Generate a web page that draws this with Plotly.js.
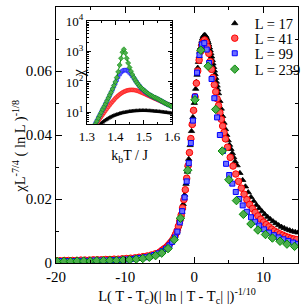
<!DOCTYPE html>
<html><head><meta charset="utf-8">
<script src="https://cdn.plot.ly/plotly-3.0.1.min.js"></script>
<style>html,body{margin:0;padding:0;background:#fff;}#chart{width:307px;height:308px;}</style>
</head><body><div id="chart"></div>
<script>
// ---- main plot data ----
const seriesNames = ['L = 17', 'L = 41', 'L = 99', 'L = 239'];

const x17 = [-20,-19.5,-19,-18.5,-18,-17.5,-17,-16.5,-16,-15.5,-15,-14.5,-14,-13.5,-13,-12.5,-12,-11.5,-11,-10.5,-10,-9.5,-9,-8.5,-8,-7.5,-7,-6.5,-6,-5.5,-5,
-4.8,-4.6,-4.4,-4.2,-4.0,-3.8,-3.6,-3.4,-3.2,
-3.0,-2.9,-2.8,-2.7,-2.6,-2.5,-2.4,-2.3,-2.2,-2.1,-2.0,-1.9,-1.8,-1.7,-1.6,-1.5,-1.4,-1.3,-1.2,-1.1,-1.0,-0.9,-0.8,-0.7,-0.6,-0.5,-0.4,-0.3,-0.2,-0.1,0,0.1,0.2,0.3,0.4,0.5,0.6,0.7,0.8,0.9,1.0,1.1,1.2,1.3,1.4,1.5,1.6,1.7,1.8,1.9,2.0,2.1,2.2,2.3,2.4,2.5,2.6,2.7,2.8,2.9,3.0,3.1,3.2,3.3,3.4,3.5,
3.7,3.9,4.1,4.3,4.5,4.7,4.9,5.1,5.3,5.5,5.7,5.9,
6.2,6.6,7.0,7.4,7.8,8.2,8.6,9.0,9.4,9.8,10.2,10.6,11.0,11.4,11.8,12.2,12.6,13.0,13.4,13.8,14.2,14.6,15.0];
const y17 = [.0008,.0008,.0008,.0008,.0009,.0009,.0009,.0009,.0010,.0010,.0010,.0010,.0011,.0011,.0011,.0012,.0012,.0013,.0013,.0014,.0014,.0015,.0016,.0017,.0018,.0019,.0021,.0023,.0026,.0030,.0034,
.0036,.0039,.0041,.0045,.0049,.0053,.0058,.0063,.0069,
.0076,.0080,.0084,.0089,.0094,.0100,.0107,.0114,.0121,.0129,.0138,.0148,.0159,.0171,.0184,.0198,.0213,.0229,.0247,.0266,.0285,.0305,.0325,.0346,.0368,.0390,.0412,.0434,.0456,.0478,.0500,.0522,.0544,.0566,.0588,.0610,.0628,.0645,.0660,.0673,.0685,.0694,.0702,.0708,.0711,.0712,.0711,.0707,.0702,.0696,.0690,.0682,.0673,.0664,.0655,.0645,.0634,.0623,.0612,.0601,.0590,.0578,.0566,.0554,.0542,.0530,
.0506,.0482,.0459,.0438,.0418,.0400,.0383,.0369,.0356,.0343,.0330,.0317,
.0305,.0281,.0259,.0239,.0221,.0206,.0193,.0181,.0171,.0161,.0152,.0144,.0137,.0130,.0124,.0118,.0113,.0109,.0105,.0102,.0099,.0097,.0095];

const x41 = [-20,-19.4,-18.8,-18.2,-17.6,-17,-16.4,-15.8,-15.2,-14.6,-14,-13.4,-12.8,-12.2,-11.6,-11,-10.4,-9.8,-9.2,-8.6,-8,-7.4,-6.8,-6.2,-5.6,-5.0,
-4.7,-4.5,-4.3,-4.1,-3.9,-3.7,-3.5,-3.3,-3.1,-2.9,-2.7,-2.5,-2.3,-2.1,-1.9,-1.7,-1.5,-1.3,-1.1,-0.9,-0.7,-0.5,-0.3,-0.1,0.1,0.3,0.5,0.7,0.9,1.1,1.3,1.5,1.7,1.9,2.1,2.3,2.5,2.7,2.9,3.1,3.3,3.5,3.7,3.9,4.1,4.3,4.5,
4.8,5.2,5.6,6.0,6.4,6.8,7.2,7.6,8.0,8.4,8.8,9.2,9.6,10.0,10.4,10.8,11.2,11.6,12.0,12.4,12.8,13.2,13.6,14.0,14.4,14.8];
const y41 = [.0007,.0007,.0008,.0008,.0008,.0008,.0009,.0009,.0009,.0010,.0010,.0010,.0011,.0011,.0012,.0012,.0013,.0014,.0015,.0016,.0018,.0020,.0022,.0025,.0029,.0034,
.0039,.0042,.0045,.0048,.0052,.0057,.0062,.0067,.0073,.0081,.0090,.0101,.0115,.0131,.0150,.0172,.0198,.0229,.0265,.0304,.0345,.0389,.0433,.0477,.0520,.0562,.0600,.0634,.0661,.0680,.0692,.0697,.0690,.0676,.0655,.0630,.0605,.0580,.0557,.0535,.0513,.0492,.0470,.0449,.0428,.0408,.0388,
.0362,.0330,.0303,.0278,.0255,.0234,.0215,.0198,.0183,.0170,.0158,.0147,.0137,.0128,.0120,.0113,.0106,.0100,.0095,.0091,.0087,.0083,.0080,.0077,.0075,.0073];

const x99 = [-20,-19.2,-18.4,-17.6,-16.8,-16,-15.2,-14.4,-13.6,-12.8,-12,-11.3,-10.6,-9.9,-9.2,-8.5,-7.8,-7.1,-6.4,-5.8,-5.2,-4.6,-4.1,-3.6,-3.2,-2.8,-2.45,-2.1,-1.75,-1.4,-1.1,-0.8,-0.5,-0.2,0.1,0.4,0.75,1.1,1.45,1.8,2.15,2.5,2.9,3.3,3.7,4.15,4.6,5.05,5.5,6.0,6.5,7.0,7.6,8.2,8.8,9.4,10.1,10.8,11.5,12.2,12.9,13.6,14.3,15.0];
const y99 = [.0006,.0006,.0006,.0006,.0007,.0007,.0007,.0008,.0008,.0008,.0009,.0009,.0010,.0011,.0012,.0014,.0016,.0018,.0021,.0025,.0030,.0037,.0045,.0055,.0066,.0080,.0098,.0127,.0162,.0205,.0255,.0312,.0375,.0445,.0520,.0595,.0650,.0683,.0687,.0667,.0625,.0575,.0515,.0455,.0400,.0350,.0310,.0275,.0248,.0222,.0200,.0180,.0160,.0143,.0129,.0117,.0105,.0095,.0087,.0080,.0074,.0069,.0064,.0060];

const x239 = [-19.8,-18.85,-17.9,-16.95,-16.0,-15.05,-14.1,-13.15,-12.2,-11.25,-10.3,-9.35,-8.4,-7.45,-6.5,-5.6,-4.7,-3.8,-2.9,-2.0,-0.95,0.1,0.95,2.0,3.1,4.05,5.0,6.1,7.1,8.2,9.2,10.3,11.3,12.4,13.4,14.5];
const y239 = [.0005,.0005,.0005,.0006,.0006,.0006,.0007,.0007,.0008,.0008,.0009,.0010,.0012,.0014,.0018,.0023,.0031,.0045,.0073,.0140,.0290,.0510,.0665,.0615,.0480,.0350,.0260,.0195,.0152,.0122,.0103,.0089,.0078,.0068,.0059,.0052];

// ---- inset data ----
const tInset = [1.330,1.335,1.340,1.345,1.350,1.355,1.360,1.365,1.370,1.375,1.380,1.385,1.390,1.395,1.400,
1.405,1.410,1.415,1.420,1.425,1.430,1.435,1.440,1.445,1.450,1.455,1.460,1.465,1.470,1.475,1.480,1.485,1.490,1.495,1.500,
1.505,1.510,1.515,1.520,1.525,1.530,1.535,1.540,1.545,1.550,1.555,1.560,1.565,1.570,1.575,1.580,1.585,1.590,1.595,1.600];
const chi17 = [4.4,4.8,5.2,5.6,6.0,6.4,6.8,7.2,7.6,7.95,8.3,
8.6,8.9,9.2,9.5,9.75,10.0,10.2,10.4,10.6,10.8,10.95,11.1,11.2,11.3,11.4,11.45,11.5,11.55,11.55,11.55,
11.55,11.5,11.45,11.4,11.3,11.2,11.1,11.0,10.9,10.8,10.65,10.5,10.4,10.25,10.1,9.95,9.8,9.65,9.5,9.35]; // from 1.350
const chi41 = [4.5,5.3,6.2,7.2,8.4,9.8,11.4,13.2,15.2,17.5,20,22.8,25.8,29,
32.3,35.6,38.9,42,45,47.6,50,52,53.5,54.5,55,55,54.5,53.5,52,50.3,48.3,46.2,44,42,
40,38,36.2,34.5,32.8,31.2,29.7,28.3,27,25.7,24.5,23.3,22.2,21.2,20.2,19.2,18.3,17.5,16.7,16.0]; // from 1.335
const chi99 = [4.3,5.3,6.6,8.1,10,12.4,15,18.5,23,28.5,36,45,57,73,93,
118,148,180,208,230,243,248,242,225,203,180,157,135,115,98,84,73,64,57.5,52.5,
48,44,40.8,38,35.5,33.5,31.5,30,28.5,27,25.6,24.2,22.8,21.4,20.2,19.1,18.1,17.2,16.3,15.4];
const chi239 = [4.2,5.2,6.5,8.0,10,12.5,15.2,18.8,23.5,29.5,37,46,59,76,100,
140,215,360,600,950,1180,900,600,420,300,225,175,140,115,97,84,73,65,59,54,
49,45,41.5,38.5,36,34,32,30.5,29,27.5,26,24.5,23,21.5,20.3,19.2,18.2,17.3,16.4,15.5];

const mainTicksX = [-20,-10,0,10];
const mainTickTextX = ['-20','-10','0','10'];
const mainTicksY = [0,0.02,0.04,0.06,0.08];
const mainTickTextY = ['0','0.02','0.04','0.06','0.08'];
const insetTicksX = [1.3,1.4,1.5,1.6];
const insetTicksY = [10,100,1000,10000];
const insetTickTextY = ['10<sup>1</sup>','10<sup>2</sup>','10<sup>3</sup>','10<sup>4</sup>'];

const FONT = 'Liberation Serif, Times New Roman, serif';
const styles = [
  {symbol:'triangle-up', size:5.5, color:'#000000', line:{color:'#000000', width:0.8}},
  {symbol:'circle', size:6.5, color:'#ff5a5a', line:{color:'#ff0000', width:1}},
  {symbol:'square', size:5, color:'#6f6fff', line:{color:'#0000ff', width:1}},
  {symbol:'diamond', size:6.5, color:'#4cae4c', line:{color:'#008a00', width:1}}
];
const insetStyles = [
  {symbol:'triangle-up', size:4, color:'#000000', line:{color:'#000000', width:0.5}},
  {symbol:'circle', size:4, color:'#ff5a5a', line:{color:'#ff0000', width:0.5}},
  {symbol:'square', size:3.5, color:'#6f6fff', line:{color:'#0000ff', width:0.5}},
  {symbol:'diamond', size:4, color:'#4cae4c', line:{color:'#008a00', width:0.5}}
];

const mx = [x17,x41,x99,x239], my = [y17,y41,y99,y239];
const it = [tInset.slice(4), tInset.slice(1), tInset, tInset];
const ic = [chi17, chi41, chi99, chi239];
const legendIds = ['legend','legend2','legend3','legend4'];

const traces = [];
for (let i=0;i<4;i++){
  traces.push({x:mx[i], y:my[i], type:'scatter', mode:'markers', name:seriesNames[i],
    marker:styles[i], xaxis:'x', yaxis:'y', legend:legendIds[i]});
}
for (let i=0;i<4;i++){
  traces.push({x:it[i], y:ic[i], type:'scatter', mode: i===3 ? 'lines+markers' : 'markers',
    line:{color:'#008a00', width:1}, marker:insetStyles[i], showlegend:false, xaxis:'x2', yaxis:'y2'});
}

const axBase = {showline:true, linecolor:'#000', linewidth:1, mirror:'ticks', ticks:'inside', tickcolor:'#000',
  tickwidth:1, showgrid:false, zeroline:false};

const minorLog = [];
[1,10,100,1000].forEach(d=>{for(let k=2;k<=9;k++) minorLog.push(k*d);});

const legRowY = [0.936, 0.878, 0.819, 0.757];
const legFont = {family:FONT, size:14.5, color:'#000'};

const layout = {
  width:307, height:308,
  margin:{l:56, r:1, t:7, b:45},
  paper_bgcolor:'#fff', plot_bgcolor:'#fff',
  showlegend:true,
  xaxis:Object.assign({}, axBase, {range:[-20,15], ticklen:6, tickmode:'array', tickvals:mainTicksX, ticktext:mainTickTextX,
    tickfont:{family:FONT, size:15, color:'#000'},
    minor:{ticks:'inside', dtick:5, tick0:0, ticklen:3, tickcolor:'#000'},
    title:{text:'L( T - T<sub>c</sub>)(| ln | T - T<sub>c</sub>| |)<sup>-1/10</sup>', font:{family:FONT, size:14.5, color:'#000'}, standoff:6}}),
  yaxis:Object.assign({}, axBase, {range:[0,0.08], ticklen:6, tickmode:'array', tickvals:mainTicksY, ticktext:mainTickTextY,
    tickfont:{family:FONT, size:15, color:'#000'},
    minor:{ticks:'inside', dtick:0.01, tick0:0, ticklen:3, tickcolor:'#000'}}),
  xaxis2:Object.assign({}, axBase, {domain:[0.128,0.48], anchor:'y2', range:[1.3,1.6], ticklen:4,
    tickmode:'array', tickvals:insetTicksX, ticktext:['1.3','1.4','1.5','1.6'],
    tickfont:{family:FONT, size:13, color:'#000'},
    minor:{ticks:'inside', dtick:0.05, tick0:1.3, ticklen:2, tickcolor:'#000'},
    title:{text:'k<sub>b</sub>T / J', font:{family:FONT, size:14, color:'#000'}, standoff:7}}),
  yaxis2:Object.assign({}, axBase, {domain:[0.543,0.945], anchor:'x2', type:'log', range:[0.62,4], ticklen:4,
    tickmode:'array', tickvals:insetTicksY, ticktext:insetTickTextY,
    tickfont:{family:FONT, size:13, color:'#000'},
    minor:{ticks:'inside', tickmode:'array', tickvals:minorLog, ticklen:2, tickcolor:'#000'}}),
  annotations:[
    {text:'χL<sup>-7/4</sup> ( ln L )<sup>-1/8</sup>', xref:'paper', yref:'paper', x:-0.152, y:0.455,
     xanchor:'center', yanchor:'middle', textangle:-90, showarrow:false, font:{family:FONT, size:14.5, color:'#000'}},
    {text:'χ', xref:'paper', yref:'paper', x:0.096, y:0.742, xanchor:'center', yanchor:'middle',
     textangle:-90, showarrow:false, font:{family:FONT, size:16, color:'#000'}}
  ]
};
legendIds.forEach((id, i) => {
  layout[id] = {x:0.656, y:legRowY[i], xanchor:'left', yanchor:'middle', bgcolor:'rgba(0,0,0,0)',
    font:legFont, itemwidth:30, borderwidth:0};
});

Plotly.newPlot('chart', traces, layout, {staticPlot:true, displayModeBar:false});
</script>
</body></html>
